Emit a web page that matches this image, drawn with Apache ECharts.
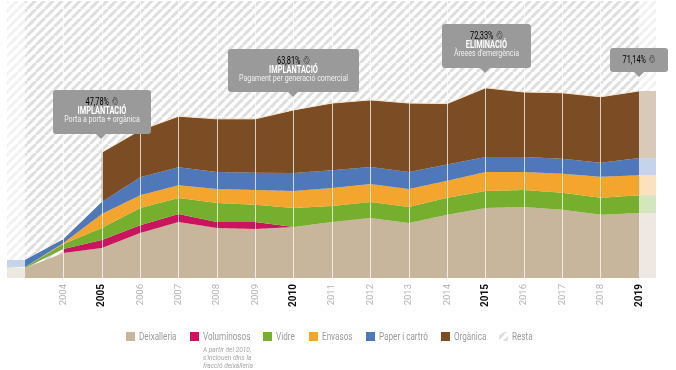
<!DOCTYPE html>
<html lang="ca">
  <head>
    <meta charset="UTF-8" />
    <script src="https://cdn.jsdelivr.net/npm/echarts@6/dist/echarts.min.js"></script>
    <title>Recollida selectiva</title>
    <style>
      html, body { margin: 0; background: #fff; }
      #app { width: 676px; height: 370px; }
    </style>
  </head>
  <body>
    <div id="app"></div>

    <script>
      const years = [2003, 2004, 2005, 2006, 2007, 2008, 2009, 2010, 2011, 2012, 2013, 2014, 2015, 2016, 2017, 2018, 2019];
      const boldYears = [2005, 2010, 2015, 2019];

      // % per fracció, llegit del gràfic
      const deixalleria = [3.8, 9.5, 11.4, 17.1, 21.3, 19.0, 18.6, 19.4, 21.3, 22.8, 20.9, 24.0, 26.6, 27.0, 25.9, 24.0, 24.7];
      const voluminosos = [null, 1.5, 3.0, 3.0, 3.0, 2.3, 2.7, 0, null, null, null, null, null, null, null, null, null];
      const vidre = [0.4, 1.9, 4.6, 6.5, 6.1, 7.2, 6.5, 7.2, 6.1, 6.1, 6.1, 6.5, 6.5, 6.5, 6.5, 6.5, 6.8];
      const envasos = [0, 0.4, 5.3, 4.9, 4.9, 5.3, 5.7, 6.5, 6.8, 6.8, 6.8, 6.5, 7.2, 6.8, 7.2, 8.0, 7.6];
      const paper = [2.7, 1.5, 4.6, 6.8, 6.8, 6.5, 6.5, 6.8, 6.8, 6.5, 6.5, 6.1, 5.7, 5.7, 5.7, 5.3, 6.5];
      const organica = [null, null, 18.9, 17.9, 19.4, 20.2, 20.5, 24.0, 25.5, 25.5, 26.2, 23.2, 26.3, 24.7, 25.1, 25.1, 25.5];
      const resta = [98.4, 90.5, 57.5, 49.1, 43.8, 44.8, 44.8, 41.4, 38.8, 37.6, 38.8, 39.0, 33.0, 34.6, 34.9, 36.4, 34.2];

      const fractions = [
        { name: "Deixalleria", values: deixalleria, color: "#C7B69C", pale: "#EDE9E2" },
        { name: "Voluminosos", values: voluminosos, color: "#C8155E", pale: "#F0C5D6" },
        { name: "Vidre", values: vidre, color: "#76AF2D", pale: "#D3E6BE" },
        { name: "Envasos", values: envasos, color: "#F3A52E", pale: "#FCE1BE" },
        { name: "Paper i cartró", values: paper, color: "#4F78BB", pale: "#C5D4EA" },
        { name: "Orgànica", values: organica, color: "#7C4D24", pale: "#D9C9B9" },
      ];

      const leftBand = [2002.53, 2003];
      const rightBand = [2019, 2019.44];
      const yMax = 105.3;

      const font = "Roboto, sans-serif";
      const squeeze = 0.74; // la lletra original és condensada

      // ratllat de "Resta"
      function hatch(color) {
        const size = 9;
        const c = document.createElement("canvas");
        c.width = size;
        c.height = size;
        const ctx = c.getContext("2d");
        ctx.fillStyle = "#fff";
        ctx.fillRect(0, 0, size, size);
        ctx.strokeStyle = color;
        ctx.lineWidth = 3;
        [-size, 0, size].forEach((o) => {
          ctx.beginPath();
          ctx.moveTo(o, size);
          ctx.lineTo(o + size, 0);
          ctx.stroke();
        });
        return { image: c, repeat: "repeat" };
      }

      // [valor, any]: amb dos eixos de valor, l'apilament va sobre la primera dimensió
      const stackEncode = { x: 1, y: 0 };

      function areaSeries(name, values, color, lineColor) {
        return {
          name: name,
          type: "line",
          stack: "total",
          symbol: "none",
          silent: true,
          encode: stackEncode,
          data: years.map((y, i) => [values[i], y]),
          itemStyle: { color: color },
          lineStyle: lineColor ? { color: lineColor, width: 1 } : { width: 0 },
          areaStyle: { color: color, opacity: 1 },
        };
      }

      // bandes pàl·lides als dos extrems
      function bandSeries(stack, xs, value, color) {
        return {
          type: "line",
          stack: stack,
          symbol: "none",
          silent: true,
          encode: stackEncode,
          data: xs.map((x) => [value, x]),
          lineStyle: { width: 0 },
          areaStyle: { color: color, opacity: 1 },
        };
      }

      const hatchMain = hatch("#DEDEDE");
      const hatchPale = hatch("#F1F1F1");

      const series = fractions.map((f) =>
        areaSeries(f.name, f.values, f.color, f.name === "Orgànica" ? "#F3E2CB" : null)
      );
      series.push(areaSeries("Resta", resta, hatchMain));

      // fons ratllat: tapa els buits on l'orgànica i els voluminosos comencen de cop
      series.push({
        type: "line",
        z: 1,
        symbol: "none",
        silent: true,
        encode: stackEncode,
        data: years.map((y) => [yMax, y]),
        lineStyle: { width: 0 },
        areaStyle: { color: hatchMain, opacity: 1 },
      });

      fractions.forEach((f) => {
        series.push(bandSeries("left", leftBand, f.values[0] || 0, f.pale));
        series.push(bandSeries("right", rightBand, f.values[years.length - 1] || 0, f.pale));
      });
      series.push(bandSeries("left", leftBand, resta[0], hatchPale));
      series.push(bandSeries("right", rightBand, resta[years.length - 1], hatchPale));

      // línies verticals de cada any
      series.push({
        type: "line",
        data: [],
        z: 5,
        markLine: {
          silent: true,
          animation: false,
          symbol: "none",
          label: { show: false },
          lineStyle: { color: "rgba(255,255,255,0.72)", width: 1, type: "solid" },
          data: years.filter((y) => y > 2003 && y < 2019).map((y) => ({ xAxis: y })),
        },
      });

      const callouts = [
        { box: [53, 90, 98, 44], tip: 101, pct: "47,78%", title: "IMPLANTACIÓ", sub: "Porta a porta + orgànica" },
        { box: [228, 49, 131, 43], tip: 293, pct: "63,81%", title: "IMPLANTACIÓ", sub: "Pagament per generació comercial" },
        { box: [442, 24, 89, 44], tip: 485, pct: "72,33%", title: "ELIMINACIÓ", sub: "Àreees d'emergència" },
        { box: [610, 48, 58, 24], tip: 639, pct: "71,14%" },
      ];

      function squeezedText(x, y, text, style) {
        return {
          type: "text",
          z: 101,
          x: x,
          y: y,
          scaleX: squeeze,
          style: Object.assign({ x: 0, y: 0, text: text, fontFamily: font, verticalAlign: "middle" }, style),
        };
      }

      const graphic = [];
      callouts.forEach((c) => {
        const [x, y, w, h] = c.box;
        const cx = x + w / 2;
        graphic.push({
          type: "rect",
          z: 100,
          shape: { x: x, y: y, width: w, height: h, r: 3 },
          style: { fill: "#9A9A9A" },
        });
        graphic.push({
          type: "polygon",
          z: 100,
          shape: { points: [[c.tip - 5, y + h], [c.tip + 5, y + h], [c.tip, y + h + 5]] },
          style: { fill: "#9A9A9A" },
        });
        graphic.push(
          squeezedText(cx, y + 12, "{p|" + c.pct + "} {i|♲}", {
            align: "center",
            rich: {
              p: { fontFamily: font, fontSize: 10, fill: "#000" },
              i: { fontFamily: "DejaVu Sans", fontSize: 11, fill: "#000", fontWeight: "bold" },
            },
          })
        );
        if (c.title) {
          graphic.push(squeezedText(cx, y + 21, c.title, { align: "center", fontSize: 10, fontWeight: "bold", fill: "#fff" }));
          graphic.push(squeezedText(cx, y + 30, c.sub, { align: "center", fontSize: 9.5, fill: "#F0F0F0" }));
        }
      });

      // llegenda
      const legendX = [126, 190, 263, 309, 366, 441, 499];
      const legendItems = fractions.map((f) => ({ name: f.name, fill: f.color })).concat({ name: "Resta", fill: hatchMain });
      legendItems.forEach((item, i) => {
        graphic.push({
          type: "rect",
          z: 100,
          shape: { x: legendX[i], y: 332, width: 9, height: 9 },
          style: { fill: item.fill },
        });
        graphic.push(squeezedText(legendX[i] + 13, 337, item.name, { align: "left", fontSize: 11, fill: "#9A9A9A" }));
      });
      graphic.push({
        type: "text",
        z: 101,
        x: 203,
        y: 346,
        scaleX: squeeze + 0.08,
        style: {
          x: 0,
          y: 0,
          text: "A partir del 2010,\ns'inclouen dins la\nfracció deixalleria",
          fontFamily: font, fontSize: 8, fontStyle: "italic", fill: "#A5A5A5", lineHeight: 8,
        },
      });

      const echart = echarts.init(document.getElementById("app"), null, { renderer: "canvas" });
      echart.setOption({
        animation: false,
        backgroundColor: "#fff",
        grid: { left: 7, right: 20, top: 1, bottom: 92 },
        xAxis: {
          type: "value",
          min: leftBand[0],
          max: rightBand[1],
          splitLine: { show: false },
          axisLine: { show: false },
          axisTick: { show: false },
          axisLabel: {
            customValues: years.slice(1),
            rotate: 90,
            margin: 6,
            hideOverlap: false,
            formatter: (v) => (boldYears.includes(v) ? "{b|" + v + "}" : "{n|" + v + "}"),
            rich: {
              n: { color: "#B5B5B5", fontFamily: font, fontSize: 9.5 },
              b: { color: "#111", fontFamily: font, fontSize: 10, fontWeight: "bold" },
            },
          },
        },
        yAxis: { type: "value", min: 0, max: yMax, show: false },
        series: series,
        graphic: graphic,
      });
    </script>
  </body>
</html>
